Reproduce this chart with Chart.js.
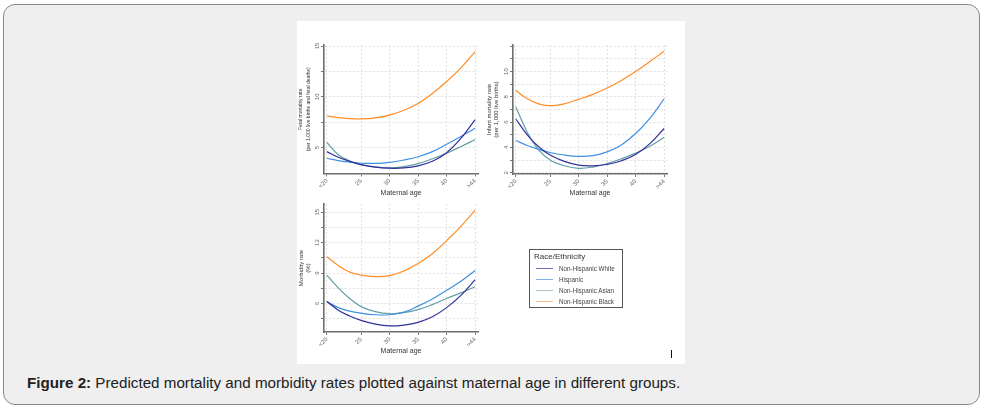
<!DOCTYPE html>
<html>
<head>
<meta charset="utf-8">
<script src="https://cdn.jsdelivr.net/npm/chart.js@4.4.1/dist/chart.umd.min.js"></script>
<style>
  html, body { margin: 0; padding: 0; background: #fff; }
  body { width: 984px; height: 410px; position: relative; overflow: hidden; font-family: "Liberation Sans", Arial, sans-serif; }
  #frame { position: absolute; left: 3px; top: 4px; width: 975px; height: 399px; background: #efefef; border: 1px solid #8a8a8a; border-radius: 12px; }
  #panel { position: absolute; left: 297px; top: 21px; width: 388px; height: 343px; background: #fff; }
  canvas { position: absolute; }
  #legend { position: absolute; left: 529px; top: 249px; width: 94px; height: 59px; border: 1px solid #555; background: #fff; box-sizing: border-box; }
  #legend .ttl { position: absolute; left: 4px; top: 2px; font-size: 8px; color: #333; filter: grayscale(1); }
  #legend .row { position: absolute; left: 6px; font-size: 6.3px; color: #444; white-space: nowrap; }
  #legend .txt { filter: grayscale(1); display: inline-block; vertical-align: middle; }
  #legend .sw { display: inline-block; width: 17px; border-top: 1.2px solid; vertical-align: middle; margin-right: 6px; }
  #mark { position: absolute; left: 671px; top: 350px; width: 1px; height: 8px; background: #111; }
  #caption { position: absolute; left: 27px; top: 374px; font-size: 15.2px; color: #222; white-space: nowrap; }
</style>
</head>
<body>
<div id="frame"></div>
<div id="panel"></div>
<canvas id="fetal" width="190" height="180" style="left:297px;top:21px"></canvas>
<canvas id="infant" width="201" height="180" style="left:484px;top:21px"></canvas>
<canvas id="morb" width="190" height="165" style="left:297px;top:195px"></canvas>
<div id="legend"><div class="ttl">Race/Ethnicity</div></div>
<div id="mark"></div>
<div id="caption"><b>Figure 2:</b> Predicted mortality and morbidity rates plotted against maternal age in different groups.</div>
<script>
// maternal age points
const ages = [19, 21, 23, 25, 27.5, 30, 32.5, 35, 37.5, 40, 42.5, 45];
const xTickValues = [19, 25, 30, 35, 40, 45];
const xTickLabels = ['<20', '25', '30', '35', '40', '>44'];

const groups = ['Non-Hispanic White', 'Hispanic', 'Non-Hispanic Asian', 'Non-Hispanic Black'];
const lineColors = ['#30309a', '#3f90e4', '#649ea6', '#ff8d26'];
const legendColors = ['#6f6fc4', '#84aee8', '#a8c4ca', '#ffbb85'];

// fetal mortality rate (per 1,000 live births and fetal deaths)
const fetalWhite = [4.6, 4.05, 3.65, 3.33, 3.08, 2.97, 3.0, 3.2, 3.65, 4.5, 5.9, 7.75];
const fetalHispanic = [3.95, 3.72, 3.57, 3.46, 3.45, 3.55, 3.78, 4.1, 4.6, 5.33, 6.1, 6.9];
const fetalAsian = [5.5, 4.3, 3.68, 3.32, 3.1, 3.0, 3.12, 3.42, 3.9, 4.45, 5.1, 5.8];
const fetalBlack = [8.12, 7.95, 7.85, 7.82, 7.92, 8.2, 8.68, 9.35, 10.32, 11.5, 12.85, 14.45];
const fetalTicks = [5, 7.5, 10, 12.5, 15];
const fetalLabels = [5, 10, 15];

// infant mortality rate (per 1,000 live births)
const infantWhite = [6.25, 5.0, 4.05, 3.4, 2.9, 2.6, 2.55, 2.65, 2.95, 3.45, 4.3, 5.5];
const infantHispanic = [4.55, 4.15, 3.85, 3.6, 3.4, 3.3, 3.35, 3.65, 4.2, 5.1, 6.3, 7.85];
const infantAsian = [7.2, 5.2, 3.8, 3.0, 2.55, 2.35, 2.45, 2.72, 3.1, 3.55, 4.1, 4.8];
const infantBlack = [8.5, 7.85, 7.45, 7.3, 7.45, 7.8, 8.2, 8.7, 9.3, 10.0, 10.8, 11.6];
const infantTicks = [2, 3, 4, 5, 6, 7, 8, 9, 10, 11, 12];
const infantLabels = [2, 4, 6, 8, 10];

// morbidity rate (%)
const morbWhite = [6.2, 5.35, 4.78, 4.35, 3.98, 3.8, 3.88, 4.15, 4.7, 5.6, 6.8, 8.35];
const morbHispanic = [6.2, 5.6, 5.25, 5.05, 4.9, 4.9, 5.15, 5.75, 6.45, 7.3, 8.2, 9.25];
const morbAsian = [8.8, 7.55, 6.5, 5.7, 5.2, 5.0, 5.1, 5.4, 5.9, 6.5, 7.05, 7.65];
const morbBlack = [10.6, 9.75, 9.1, 8.8, 8.65, 8.75, 9.2, 9.95, 10.9, 12.2, 13.6, 15.2];
const morbTicks = [4.5, 6, 7.5, 9, 10.5, 12, 13.5, 15];
const morbLabels = [6, 9, 12, 15];

const fnt = '"Liberation Sans", Arial, sans-serif';

function makeChart(id, c) {
  return new Chart(document.getElementById(id), {
    type: 'line',
    data: {
      datasets: groups.map((g, i) => ({
        label: g,
        data: ages.map((a, j) => ({ x: a, y: c.series[i][j] })),
        borderColor: lineColors[i],
        borderWidth: 1.2,
        pointRadius: 0,
        tension: 0.4,
        fill: false
      }))
    },
    options: {
      responsive: false,
      animation: false,
      layout: { padding: c.pad },
      plugins: { legend: { display: false }, tooltip: { enabled: false } },
      scales: {
        x: {
          type: 'linear', min: 18.5, max: 45.5,
          afterBuildTicks: s => { s.ticks = xTickValues.map(v => ({ value: v })); },
          afterFit: s => { s.height = c.xh; },
          ticks: {
            autoSkip: false, minRotation: 45, maxRotation: 45, padding: 1,
            color: '#666', font: { family: fnt, size: 6 },
            callback: v => xTickLabels[xTickValues.indexOf(v)]
          },
          grid: { color: '#e0e0e0', tickColor: '#777', tickLength: 3, tickBorderDash: [] },
          border: { color: '#6e6e6e', width: 1.6, dash: [2, 2] },
          title: { display: true, text: 'Maternal age', color: '#333', font: { family: fnt, size: 7 }, padding: { top: 0, bottom: c.xtp } }
        },
        y: {
          min: c.min, max: c.max,
          afterBuildTicks: s => { s.ticks = c.ticks.map(v => ({ value: v })); },
          afterFit: s => { s.width = c.yw; },
          ticks: {
            autoSkip: false, minRotation: 90, maxRotation: 90, crossAlign: 'center', padding: 0,
            color: '#666', font: { family: fnt, size: 6 },
            callback: v => c.labels.includes(v) ? String(v) : ''
          },
          grid: { color: '#e0e0e0', tickColor: '#777', tickLength: 3, tickBorderDash: [] },
          border: { color: '#6e6e6e', width: 1.6, dash: [2, 2] },
          title: { display: true, text: c.ytitle, color: '#333', font: { family: fnt, size: c.tsize, lineHeight: c.tlh }, padding: { top: c.ytp, bottom: 0 } }
        }
      }
    }
  });
}

makeChart('fetal', {
  series: [fetalWhite, fetalHispanic, fetalAsian, fetalBlack],
  min: 2.45, max: 15.1, ticks: fetalTicks, labels: fetalLabels,
  ytitle: ['Fetal mortality rate', '(per 1,000 live births and fetal deaths)'],
  tsize: 5, tlh: 1.6, ytp: 0,
  pad: { left: 0, top: 24, right: 9, bottom: 0 }, yw: 27, xh: 27.5, xtp: 4
});

makeChart('infant', {
  series: [infantWhite, infantHispanic, infantAsian, infantBlack],
  min: 1.9, max: 12.1, ticks: infantTicks, labels: infantLabels,
  ytitle: ['Infant mortality rate', '(per 1,000 live births)'],
  tsize: 6, tlh: 1.17, ytp: 1.5,
  pad: { left: 0, top: 24, right: 18, bottom: 0 }, yw: 29, xh: 27, xtp: 4
});

makeChart('morb', {
  series: [morbWhite, morbHispanic, morbAsian, morbBlack],
  min: 3.2, max: 15.8, ticks: morbTicks, labels: morbLabels,
  ytitle: ['Morbidity rate', '(%)'],
  tsize: 6, tlh: 1.1, ytp: 1.4,
  pad: { left: 0, top: 9, right: 9, bottom: 0 }, yw: 27, xh: 28, xtp: 5
});

// legend box
const legend = document.getElementById('legend');
groups.forEach((g, i) => {
  const row = document.createElement('div');
  row.className = 'row';
  row.style.top = (14 + i * 11) + 'px';
  const sw = document.createElement('span');
  sw.className = 'sw';
  sw.style.borderTopColor = legendColors[i];
  const txt = document.createElement('span');
  txt.className = 'txt';
  txt.textContent = g;
  row.appendChild(sw);
  row.appendChild(txt);
  legend.appendChild(row);
});
</script>
</body>
</html>
